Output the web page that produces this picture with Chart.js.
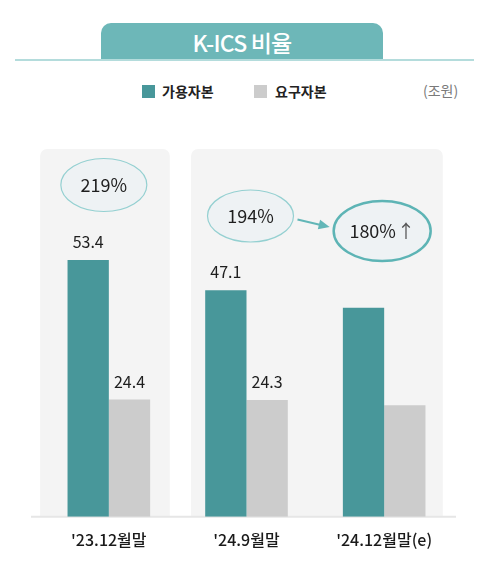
<!DOCTYPE html>
<html>
<head>
<meta charset="utf-8">
<script src="https://cdn.jsdelivr.net/npm/chart.js@4"></script>
<style>
  html, body { margin:0; padding:0; background:#fff; }
  body { width:483px; height:568px; position:relative; overflow:hidden; font-family:"Noto Sans CJK KR","Noto Sans",sans-serif; }
  #wrap { position:absolute; left:0; top:0; width:483px; height:568px; }
  #tab { position:absolute; left:101px; top:23px; width:282px; height:37px; background:#6db7b8; border-radius:10px 10px 0 0; color:#fff; font-size:23px; font-weight:500; text-align:center; line-height:38px; letter-spacing:-0.8px; }
  #rule { position:absolute; left:15px; top:59px; width:459px; height:2px; background:#b4dcdc; }
  .lg { position:absolute; top:82px; font-size:14px; font-weight:700; color:#222; line-height:18px; }
  .sw { position:absolute; top:85px; width:13px; height:13px; }
  #unit { position:absolute; left:423px; top:81px; font-size:14px; color:#7a7a7a; line-height:18px; }
</style>
</head>
<body>
<div id="tab">K-ICS 비율</div>
<div id="rule"></div>
<div id="legend"></div>
<div id="unit">(조원)</div>
<div id="wrap"><canvas id="c" width="483" height="568"></canvas></div>
<script>
// ---- data ----
const categories = ["'23.12월말", "'24.9월말", "'24.12월말(e)"];
const seriesNames = ['가용자본', '요구자본'];
const availableCapital = [53.4, 47.1, 43.5];
const requiredCapital = [24.4, 24.3, 23.2];
const showValueLabel = [true, true, false];
const ratioLabels = ['219%', '194%', '180%'];
const ratioSuffix = ['', '', '↑'];
const panelGroups = [[0], [1, 2]];

const teal = '#48979a';
const grey = '#cccccc';

// HTML legend
(function(){
  const lg = document.getElementById('legend');
  const swX = [142, 254], txX = [162, 275], cols = [teal, grey];
  seriesNames.forEach((n, i) => {
    const s = document.createElement('div'); s.className = 'sw';
    s.style.left = swX[i] + 'px'; s.style.background = cols[i]; lg.appendChild(s);
    const t = document.createElement('div'); t.className = 'lg';
    t.style.left = txX[i] + 'px'; t.textContent = n; lg.appendChild(t);
  });
})();

const FONT = '"Noto Sans CJK KR","Noto Sans",sans-serif';

const decor = {
  id: 'decor',
  beforeDatasetsDraw(chart) {
    const {ctx, chartArea: ca, scales: {x}} = chart;
    const step = x.getPixelForValue(1) - x.getPixelForValue(0);
    const insetL = [0.499, 0.403], insetR = [0.443, 0.426];
    ctx.save();
    // panels
    ctx.fillStyle = '#f4f4f4';
    panelGroups.forEach((g, k) => {
      const l = x.getPixelForValue(g[0]) - step * insetL[k];
      const r = x.getPixelForValue(g[g.length - 1]) + step * insetR[k];
      ctx.beginPath();
      ctx.roundRect(l, ca.top, r - l, ca.bottom - ca.top, [7, 7, 0, 0]);
      ctx.fill();
    });
    // baseline
    ctx.strokeStyle = '#e6e6e6';
    ctx.lineWidth = 2;
    ctx.beginPath();
    ctx.moveTo(ca.left - 9, ca.bottom);
    ctx.lineTo(ca.right + 3, ca.bottom);
    ctx.stroke();
    ctx.restore();
  },
  afterDatasetsDraw(chart) {
    const {ctx, chartArea: ca, scales: {x}} = chart;
    ctx.save();
    // value labels
    ctx.fillStyle = '#1e1e1e';
    ctx.font = '16px ' + FONT;
    ctx.textAlign = 'center';
    ctx.textBaseline = 'middle';
    chart.data.datasets.forEach((ds, di) => {
      const meta = chart.getDatasetMeta(di);
      meta.data.forEach((bar, i) => {
        if (!showValueLabel[i]) return;
        ctx.fillText(ds.data[i].toFixed(1), bar.x, bar.y - 18);
      });
    });
    // ratio ellipses
    const ey = [36, 67, 82], rx = [43, 43, 48.5], ry = [26.5, 26, 30];
    const ellipses = [];
    ratioLabels.forEach((lab, i) => {
      const cx = x.getPixelForValue(i) - (i === 0 ? 5 : i === 1 ? -4 : 2);
      const cy = ca.top + ey[i];
      ellipses.push({cx, cy, rx: rx[i], ry: ry[i]});
      ctx.beginPath();
      ctx.ellipse(cx, cy, rx[i], ry[i], 0, 0, Math.PI * 2);
      ctx.fillStyle = '#eef2f4';
      ctx.fill();
      const strong = ratioSuffix[i] !== '';
      ctx.strokeStyle = strong ? '#5db4b5' : '#94d0d1';
      ctx.lineWidth = strong ? 2.5 : 1.2;
      ctx.stroke();
      ctx.font = '18px ' + FONT;
      ctx.fillStyle = '#1e1e1e';
      if (strong) {
        const w1 = ctx.measureText(lab).width;
        const w2 = ctx.measureText(ratioSuffix[i]).width;
        const tot = w1 + 1 + w2;
        ctx.textAlign = 'left';
        ctx.fillText(lab, cx - tot / 2, cy);
        ctx.fillStyle = '#555';
        ctx.fillText(ratioSuffix[i], cx - tot / 2 + w1 + 1, cy);
        ctx.textAlign = 'center';
      } else {
        ctx.fillText(lab, cx, cy);
      }
    });
    // arrow between 194% and 180%
    const a = ellipses[1], b = ellipses[2];
    const x1 = a.cx + a.rx + 4, y1 = a.cy + 3.5;
    const x2 = b.cx - b.rx - 4, y2 = b.cy - 4;
    const ang = Math.atan2(y2 - y1, x2 - x1);
    ctx.strokeStyle = '#62b6b7';
    ctx.fillStyle = '#62b6b7';
    ctx.lineWidth = 2;
    ctx.beginPath();
    ctx.moveTo(x1, y1);
    ctx.lineTo(x2 - 8 * Math.cos(ang), y2 - 8 * Math.sin(ang));
    ctx.stroke();
    ctx.beginPath();
    ctx.moveTo(x2, y2);
    ctx.lineTo(x2 - 11 * Math.cos(ang) + 5 * Math.sin(ang), y2 - 11 * Math.sin(ang) - 5 * Math.cos(ang));
    ctx.lineTo(x2 - 11 * Math.cos(ang) - 5 * Math.sin(ang), y2 - 11 * Math.sin(ang) + 5 * Math.cos(ang));
    ctx.closePath();
    ctx.fill();
    ctx.restore();
  }
};

new Chart(document.getElementById('c'), {
  type: 'bar',
  data: {
    labels: categories,
    datasets: [
      { label: seriesNames[0], data: availableCapital, backgroundColor: teal, categoryPercentage: 0.6, barPercentage: 1.0 },
      { label: seriesNames[1], data: requiredCapital, backgroundColor: grey, categoryPercentage: 0.6, barPercentage: 1.0 }
    ]
  },
  options: {
    responsive: false,
    animation: false,
    events: [],
    layout: { padding: { left: 40, right: 30, top: 149, bottom: 12 } },
    plugins: { legend: { display: false }, tooltip: { enabled: false } },
    scales: {
      x: {
        grid: { display: false },
        border: { display: false },
        ticks: { color: '#1a1a1a', font: { family: FONT, size: 16, weight: '500' }, padding: 6, maxRotation: 0 }
      },
      y: { display: false, min: 0, max: 76.5 }
    }
  },
  plugins: [decor]
});
</script>
</body>
</html>
